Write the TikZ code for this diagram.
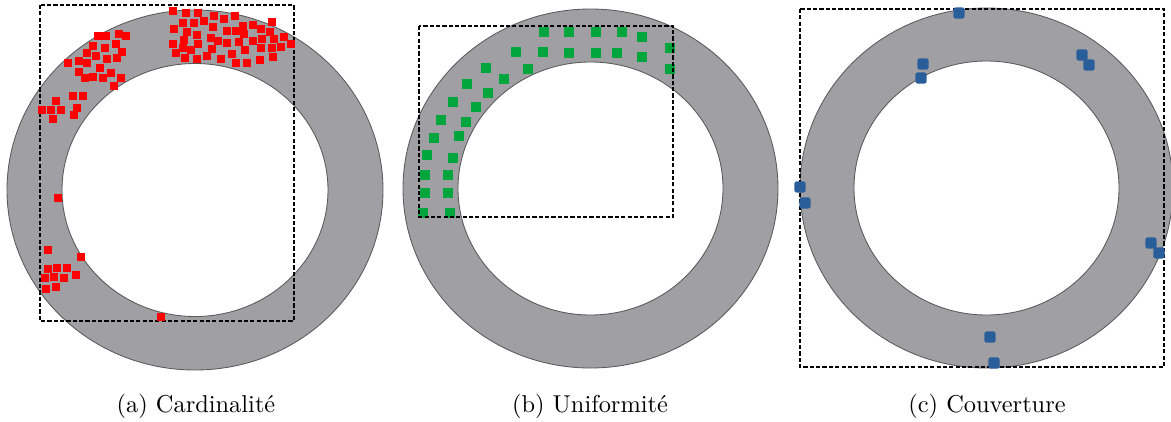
\documentclass[tikz,border=0pt]{standalone}

\definecolor{anneau}{RGB}{160,159,163}
\definecolor{bordanneau}{RGB}{90,90,92}
\definecolor{vertpt}{RGB}{0,166,61}
\definecolor{bleupt}{RGB}{42,94,155}

\begin{document}
\begin{tikzpicture}[x=0.41pt, y=-0.41pt]
    \tikzstyle{ringfill} = [fill=anneau, even odd rule]
    \tikzstyle{ringline} = [draw=bordanneau, line width=0.35pt]
    \tikzstyle{zone} = [draw=black, line width=0.55pt, dash pattern=on 1.7pt off 0.9pt]
    \tikzstyle{redsq} = [rectangle, fill=red, inner sep=0pt, outer sep=0pt, minimum size=3.5pt]
    \tikzstyle{greensq} = [rectangle, fill=vertpt, inner sep=0pt, outer sep=0pt, minimum size=3.7pt]
    \tikzstyle{bluesq} = [rectangle, rounded corners=1.1pt, fill=bleupt, inner sep=0pt, outer sep=0pt, minimum size=4.7pt]
    \tikzstyle{caption} = [anchor=base, font=\normalsize]

    \useasboundingbox (0,0) rectangle (1171,421);

    % (a) Cardinalite
    \fill[ringfill] (195,190) ellipse [x radius=188, y radius=180] (195,190) ellipse [x radius=133, y radius=126.5];
    \draw[ringline] (195,190) ellipse [x radius=188, y radius=180];
    \draw[ringline] (195,190) ellipse [x radius=133, y radius=126.5];
    \draw[zone] (40,5) rectangle (294,321);
    \foreach \x/\y [count=\i] in {173/11,186/13,198/13,214/16,224/19,235/16,272/22,183/23,194/23,204/21,
        213/27,243/26,253/25,261/29,270/32,174/29,187/32,197/35,227/31,236/31,244/34,173/44,184/40,
        211/38,218/41,227/43,239/42,253/41,262/39,274/39,284/37,291/44,183/48,198/44,191/50,212/49,
        245/50,261/48,272/48,281/47,176/53,185/58,197/59,207/56,221/59,232/54,236/63,247/63,260/60,273/57,
        98/36,106/36,119/34,126/36,93/46,105/48,116/44,122/52,87/53,96/56,107/59,117/58,68/63,79/61,
        87/63,100/68,79/72,111/73,85/78,93/77,103/78,121/78,114/86,
        56/101,73/96,83/96,42/110,51/110,61/110,53/119,77/108,74/115,
        58/198,
        48/250,81/257,48/269,57/268,67/268,45/278,54/277,64/278,76/275,46/289,56/287,
        161/317}
        \node[redsq] (r\i) at (\x,\y) {};
    \node[caption] (capa) at (196,412) {(a)~Cardinalité};

    % (b) Uniformite
    \fill[ringfill] (590.5,188.5) ellipse [x radius=187.5, y radius=179.5] (590.5,188.5) ellipse [x radius=132.5, y radius=126.5];
    \draw[ringline] (590.5,188.5) ellipse [x radius=187.5, y radius=179.5];
    \draw[ringline] (590.5,188.5) ellipse [x radius=132.5, y radius=126.5];
    \foreach \x/\y [count=\i] in {544/32,569/32,596/32,622/32,642/37,
        516/52,543/52,569/53,596/53,617/53,642/57,670/48,670/69,
        486/68,528/69,467/84,504/79,488/93,453/102,476/107,441/120,466/122,
        434/138,459/136,427/155,453/158,425/175,448/175,425/193,448/193,423/213,450/213}
        \node[greensq] (g\i) at (\x,\y) {};
    \draw[zone] (419,26) rectangle (673,217);
    \node[caption] (capb) at (590,412) {(b)~Uniformité};

    % (c) Couverture
    \fill[ringfill] (986.5,188) ellipse [x radius=186.5, y radius=180] (986.5,188) ellipse [x radius=132.5, y radius=127];
    \draw[ringline] (986.5,188) ellipse [x radius=186.5, y radius=180];
    \draw[ringline] (986.5,188) ellipse [x radius=132.5, y radius=127];
    \draw[zone] (800,9) rectangle (1164,367);
    \foreach \x/\y [count=\i] in {959/13,923/64,921/78,1082/55,1089/65,800/187,805/203,
        1151/243,1159/253,990/337,994/363}
        \node[bluesq] (b\i) at (\x,\y) {};
    \node[caption] (capc) at (987,412) {(c)~Couverture};
\end{tikzpicture}
\end{document}
